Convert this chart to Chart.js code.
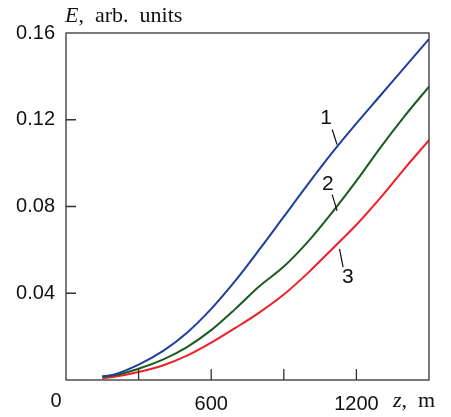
<!DOCTYPE html>
<html>
<head>
<meta charset="utf-8">
<script src="https://cdn.jsdelivr.net/npm/chart.js@4/dist/chart.umd.min.js"></script>
<style>
  html, body { margin: 0; padding: 0; background: #fff; }
  #wrap { width: 451px; height: 417px; position: relative; }
</style>
</head>
<body>
<div id="wrap"><canvas id="c"></canvas></div>
<script>
const zs = [150, 200, 300, 400, 500, 600, 700, 800, 900, 1000, 1100, 1200, 1300, 1400, 1500];
const curve1 = [0.0016, 0.0026, 0.0071, 0.0133, 0.0218, 0.0328, 0.0458, 0.0603, 0.0753, 0.0903, 0.1048, 0.1183, 0.1313, 0.1443, 0.1572];
const curve2 = [0.0016, 0.0022, 0.0052, 0.0094, 0.0152, 0.0230, 0.0328, 0.0433, 0.0523, 0.0638, 0.0773, 0.0918, 0.1073, 0.1218, 0.1353];
const curve3 = [0.0008, 0.0015, 0.0037, 0.0067, 0.0112, 0.0172, 0.0240, 0.0312, 0.0394, 0.0494, 0.0604, 0.0716, 0.0841, 0.0976, 0.1106];
const xTicks = [300, 600, 900, 1200];
const yTicks = [0.04, 0.08, 0.12];

// curve labels: [text, label x, label y, leader from, leader to] in data units
const curveLabels = [
  ["1", 1075, 0.1205, [1100, 0.1155], [1120, 0.1085]],
  ["2", 1082, 0.0905, [1100, 0.0855], [1120, 0.0780]],
  ["3", 1165, 0.0475, [1145, 0.052], [1130, 0.0605]],
];

const pts = (ys) => zs.map((z, i) => ({ x: z, y: ys[i] }));
const sans = "'Liberation Sans', Arial, sans-serif";
const serif = "'Liberation Serif', 'Times New Roman', serif";

const frame = {
  id: "frame",
  afterDraw(chart) {
    const { ctx, chartArea: a, scales: { x, y } } = chart;
    ctx.save();
    ctx.strokeStyle = "#333";
    ctx.lineWidth = 1.3;
    ctx.strokeRect(a.left, a.top, a.right - a.left, a.bottom - a.top);
    ctx.beginPath();
    for (const v of xTicks) {
      const px = x.getPixelForValue(v);
      ctx.moveTo(px, a.bottom);
      ctx.lineTo(px, a.bottom - 11);
    }
    for (const v of yTicks) {
      const py = y.getPixelForValue(v);
      ctx.moveTo(a.left, py);
      ctx.lineTo(a.left + 10, py);
    }
    ctx.stroke();

    // curve labels
    ctx.fillStyle = "#111";
    ctx.strokeStyle = "#111";
    ctx.lineWidth = 1.2;
    ctx.font = "21px " + sans;
    ctx.textAlign = "center";
    ctx.textBaseline = "middle";
    for (const [t, lx, ly, p0, p1] of curveLabels) {
      ctx.fillText(t, x.getPixelForValue(lx), y.getPixelForValue(ly));
      ctx.beginPath();
      ctx.moveTo(x.getPixelForValue(p0[0]), y.getPixelForValue(p0[1]));
      ctx.lineTo(x.getPixelForValue(p1[0]), y.getPixelForValue(p1[1]));
      ctx.stroke();
    }

    // origin label and axis titles
    ctx.font = "20px " + sans;
    ctx.textBaseline = "alphabetic";
    ctx.fillText("0", x.getPixelForValue(0) - 10, 407);

    ctx.textAlign = "left";
    ctx.font = "italic 22px " + serif;
    ctx.fillText("E", 65, 22);
    let w = ctx.measureText("E").width;
    ctx.font = "22px " + serif;
    ctx.fillText(",  arb.  units", 65 + w, 22);

    ctx.font = "italic 22px " + serif;
    ctx.fillText("z", 393, 407);
    w = ctx.measureText("z").width;
    ctx.font = "22px " + serif;
    ctx.fillText(",  m", 393 + w, 407);
    ctx.restore();
  },
};

const line = (ys, color) => ({
  data: pts(ys),
  borderColor: color,
  borderWidth: 2,
  pointRadius: 0,
  fill: false,
  cubicInterpolationMode: "monotone",
});

new Chart(document.getElementById("c"), {
  type: "line",
  data: {
    datasets: [
      line(curve1, "#1d3f9f"),
      line(curve2, "#1a5c20"),
      line(curve3, "#ee2026"),
    ],
  },
  options: {
    responsive: true,
    maintainAspectRatio: false,
    animation: false,
    layout: { padding: { top: 33, right: 22, left: 0, bottom: 0 } },
    plugins: { legend: { display: false }, tooltip: { enabled: false } },
    scales: {
      x: {
        type: "linear",
        min: 0,
        max: 1500,
        grid: { display: false, drawTicks: false },
        border: { display: false },
        ticks: {
          stepSize: 300,
          padding: 12,
          color: "#111",
          font: { family: sans, size: 20 },
          callback: (v) => (v === 600 || v === 1200 ? String(v) : ""),
        },
        afterFit: (s) => { s.height = 37; },
      },
      y: {
        min: 0,
        max: 0.16,
        grid: { display: false, drawTicks: false },
        border: { display: false },
        ticks: {
          stepSize: 0.04,
          padding: 11,
          color: "#111",
          font: { family: sans, size: 20 },
          callback: (v) => (v === 0 ? "" : v.toFixed(2)),
        },
        afterFit: (s) => { s.width = 66; },
      },
    },
  },
  plugins: [frame],
});
</script>
</body>
</html>
